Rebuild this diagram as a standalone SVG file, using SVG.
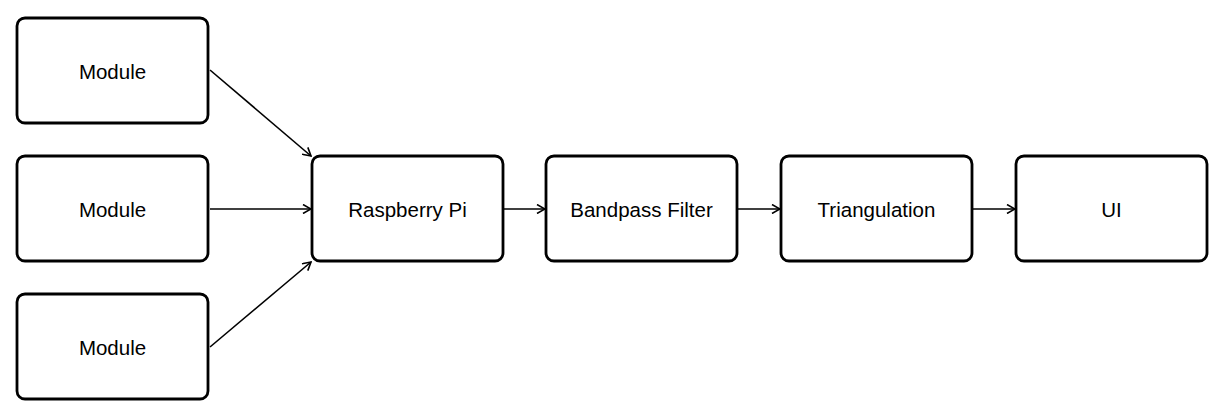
<svg xmlns="http://www.w3.org/2000/svg" width="1227" height="418" viewBox="0 0 1227 418">
<style>
.box{fill:#fff;stroke:#000;stroke-width:2.8}
.lbl{font-family:"Liberation Sans",Arial,sans-serif;font-size:20.5px;fill:#000;text-anchor:middle}
.edge{fill:none;stroke:#000;stroke-width:1.6;marker-end:url(#arr)}
</style>
<defs>
<marker id="arr" viewBox="0 0 10 10" refX="9" refY="5" markerWidth="10" markerHeight="10" markerUnits="userSpaceOnUse" orient="auto">
<path d="M1,0.5 L9,5 L1,9.5" fill="none" stroke="#000" stroke-width="1.6"/>
</marker>
</defs>
<rect width="1227" height="418" fill="#fff"/>
<g id="connectors">
<path class="edge" d="M210,70 L311,156"/>
<path class="edge" d="M210,209 L311,209"/>
<path class="edge" d="M210,347 L311,262"/>
<path class="edge" d="M504,209 L545,209"/>
<path class="edge" d="M738,209 L780,209"/>
<path class="edge" d="M973,209 L1015,209"/>
</g>
<g id="module1"><rect class="box" x="17" y="18" width="191" height="105" rx="8"/><text class="lbl" x="112.5" y="78.5">Module</text></g>
<g id="module2"><rect class="box" x="17" y="156" width="191" height="105" rx="8"/><text class="lbl" x="112.5" y="216.5">Module</text></g>
<g id="module3"><rect class="box" x="17" y="294" width="191" height="105" rx="8"/><text class="lbl" x="112.5" y="354.5">Module</text></g>
<g id="raspberry"><rect class="box" x="312" y="156" width="191" height="105" rx="8"/><text class="lbl" x="407.5" y="216.5">Raspberry Pi</text></g>
<g id="bandpass"><rect class="box" x="546" y="156" width="191" height="105" rx="8"/><text class="lbl" x="641.5" y="216.5">Bandpass Filter</text></g>
<g id="triangulation"><rect class="box" x="781" y="156" width="191" height="105" rx="8"/><text class="lbl" x="876.5" y="216.5">Triangulation</text></g>
<g id="ui"><rect class="box" x="1016" y="156" width="191" height="105" rx="8"/><text class="lbl" x="1111.5" y="216.5">UI</text></g>
</svg>
